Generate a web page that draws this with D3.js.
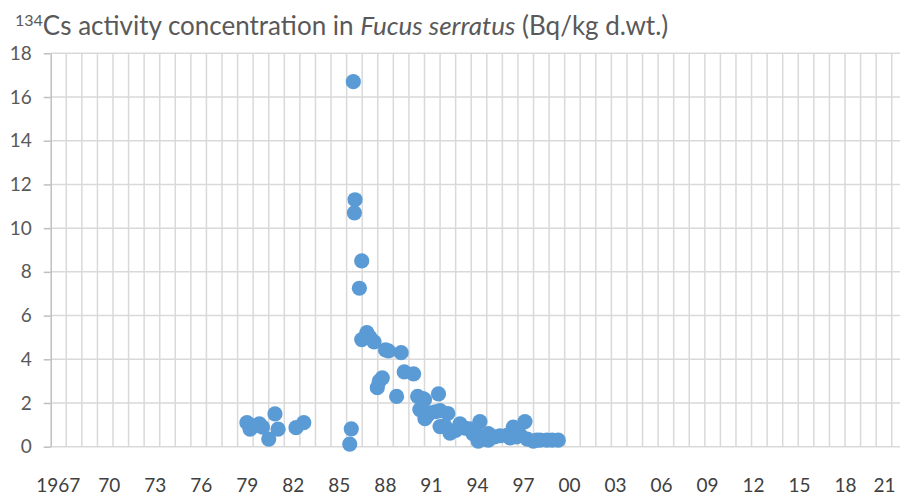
<!DOCTYPE html>
<html>
<head>
<meta charset="utf-8">
<script src="https://cdn.jsdelivr.net/npm/d3@7"></script>
<style>
  html, body { margin: 0; padding: 0; background: #fff; }
  svg { display: block; font-family: Lato, "Open Sans", sans-serif; }
</style>
</head>
<body>
<svg id="chart" width="900" height="501"></svg>
<script>
// sampling time (decimal year) and 134Cs in Fucus serratus, Bq/kg d.wt.
const years = [
  1979.6, 1979.8, 1980.1, 1980.4, 1980.6, 1981.0, 1981.4, 1981.6, 1982.75, 1983.25,
  1986.2, 1986.3, 1986.43, 1986.54, 1986.5, 1986.97, 1986.82, 1987.3, 1986.97, 1987.5,
  1987.76, 1988.5, 1988.68, 1989.5, 1988.29, 1988.1, 1987.97, 1989.21, 1989.7, 1990.3,
  1990.56, 1990.9, 1991.0, 1991.9, 1990.7, 1991.03, 1991.2, 1991.35, 1991.7, 1992.0,
  1992.5, 1992.0, 1992.3, 1992.64, 1993.0, 1993.28, 1993.6, 1993.92, 1994.1, 1994.56,
  1994.24, 1994.4, 1994.45, 1994.8, 1995.1, 1995.1, 1995.5, 1995.85, 1996.3, 1996.7,
  1996.5, 1997.13, 1997.45, 1996.9, 1997.6, 1997.99, 1998.2, 1998.42, 1998.85, 1999.2,
  1999.59
];
const values = [
  1.10, 0.80, 0.95, 1.05, 0.90, 0.35, 1.50, 0.80, 0.87, 1.10,
  0.12, 0.82, 16.7, 11.3, 10.7, 8.5, 7.25, 5.22, 4.9, 5.0,
  4.8, 4.43, 4.38, 4.3, 3.15, 3.0, 2.7, 2.3, 3.42, 3.33,
  2.3, 2.2, 2.15, 2.42, 1.7, 1.28, 1.45, 1.55, 1.6, 1.65,
  1.52, 0.92, 0.95, 0.62, 0.75, 1.05, 0.85, 0.82, 0.6, 1.15,
  0.68, 0.45, 0.25, 0.35, 0.3, 0.6, 0.45, 0.5, 0.52, 0.9,
  0.4, 0.55, 1.15, 0.45, 0.35, 0.25, 0.3, 0.3, 0.3, 0.3,
  0.3
];
const yTicks = [0, 2, 4, 6, 8, 10, 12, 14, 16, 18];
const xLabelYears = [1967, 1970, 1973, 1976, 1979, 1982, 1985, 1988, 1991, 1994,
  1997, 2000, 2003, 2006, 2009, 2012, 2015, 2018, 2021];

const W = 900, H = 501;
const svg = d3.select("#chart");

const x = d3.scaleLinear().domain([1967, 2022]).range([50.7, 907.3]);
const y = d3.scaleLinear().domain([0, 18]).range([446.7, 53.3]);
// Excel spreads the year labels slightly differently from the gridlines
const xLab = d3.scaleLinear().domain([1970, 2018]).range([108.8, 845]);

// title
const title = svg.append("text")
    .attr("x", 15)
    .attr("y", 35)
    .attr("fill", "#595959")
    .style("font-size", "26px");
title.append("tspan").text("134").style("font-size", "16px").attr("dy", "-9");
title.append("tspan").text("Cs activity concentration in ").attr("dy", "9");
title.append("tspan").text("Fucus serratus").style("font-style", "italic");
title.append("tspan").text(" (Bq/kg d.wt.)");

// vertical gridlines, one per year
svg.append("g")
    .attr("stroke", "#d9d9d9")
    .attr("stroke-width", 1.5)
  .selectAll("line")
  .data(d3.range(1968, 2023))
  .join("line")
    .attr("x1", d => x(d)).attr("x2", d => x(d))
    .attr("y1", y(18)).attr("y2", y(0));

// horizontal gridlines
svg.append("g")
    .attr("stroke", "#d9d9d9")
    .attr("stroke-width", 1.5)
  .selectAll("line")
  .data(yTicks)
  .join("line")
    .attr("x1", x(1967)).attr("x2", W)
    .attr("y1", d => y(d)).attr("y2", d => y(d));

// y axis
const yAxis = svg.append("g")
    .attr("transform", `translate(${x(1967)},0)`)
    .call(d3.axisLeft(y).tickValues(yTicks).tickSize(7).tickPadding(12).tickSizeOuter(0));
yAxis.select(".domain").attr("stroke", "#bfbfbf").attr("stroke-width", 1.5);
yAxis.selectAll(".tick line").attr("stroke", "#bfbfbf").attr("stroke-width", 1.5);
yAxis.selectAll(".tick text")
    .attr("fill", "#595959")
    .style("font-family", "Lato, sans-serif")
    .style("font-size", "19px");

// x labels
const xAxis = svg.append("g")
    .attr("transform", `translate(0,${y(0)})`)
    .call(d3.axisBottom(xLab).tickValues(xLabelYears).tickSize(0).tickPadding(32)
      .tickFormat(d => d === 1967 ? "1967" : d3.format("02")(d % 100)));
xAxis.select(".domain").remove();
xAxis.selectAll(".tick text")
    .attr("fill", "#404040")
    .style("font-family", "Lato, sans-serif")
    .style("font-size", "19px");
// keep labels inside the frame like Excel does
xAxis.selectAll(".tick").each(function(d) {
  const t = d3.select(this).select("text");
  const w = t.node().getComputedTextLength();
  const cx = xLab(d);
  let shift = 0;
  if (cx + w / 2 > W - 5) shift = (W - 5) - (cx + w / 2);
  if (d === 1967) shift = -5;
  t.attr("x", shift);
});

// points
svg.append("g")
  .selectAll("circle")
  .data(years.map((yr, i) => ({yr, v: values[i]})))
  .join("circle")
    .attr("cx", d => x(d.yr))
    .attr("cy", d => y(d.v))
    .attr("r", 7.6)
    .attr("fill", "#5b9bd5");
</script>
</body>
</html>
